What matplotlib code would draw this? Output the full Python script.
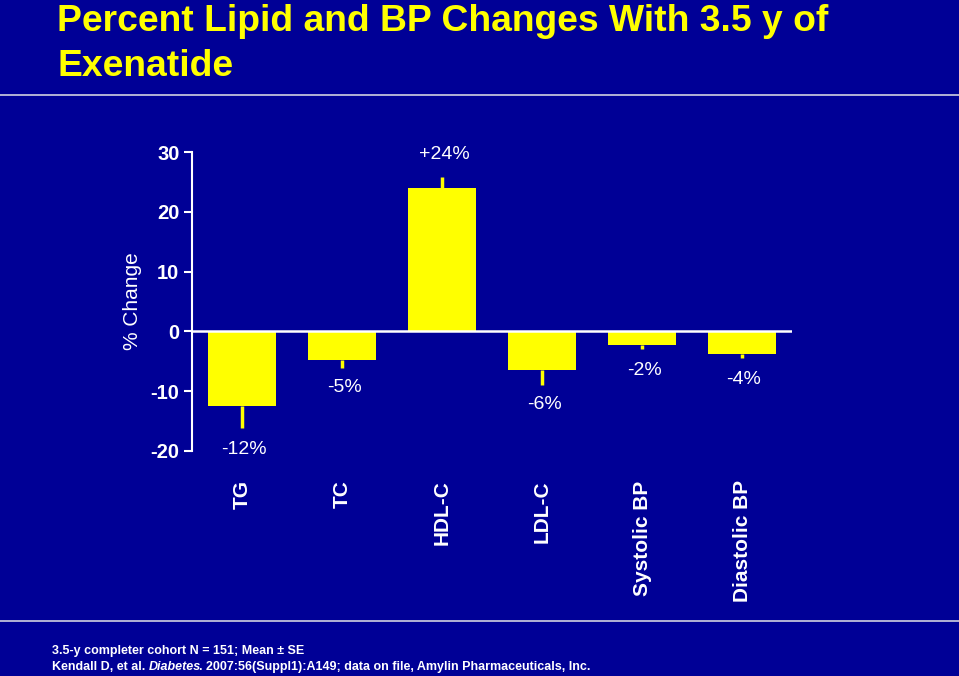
import matplotlib
matplotlib.use("Agg")
import matplotlib.pyplot as plt

categories = ["TG", "TC", "HDL-C", "LDL-C", "Systolic BP", "Diastolic BP"]
values = [-12.5, -4.7, 24.0, -6.5, -2.3, -3.8]
errors = [3.7, 1.5, 1.8, 2.5, 0.7, 0.7]
value_labels = ["-12%", "-5%", "+24%", "-6%", "-2%", "-4%"]
label_y = [-19.7, -9.3, 29.5, -12.3, -6.5, -8.1]
yticks = [-20, -10, 0, 10, 20, 30]

sans = ["Liberation Sans", "DejaVu Sans"]
plt.rcParams["font.family"] = sans

BG = "#000096"
YEL = "#FFFF00"
W, H = 959, 676
fig = plt.figure(figsize=(W / 100, H / 100), dpi=100, facecolor=BG)

# title
fig.text(57 / W, 1 - 31 / H, "Percent Lipid and BP Changes With 3.5 y of", color=YEL,
         fontsize=26.8, fontweight="bold", va="baseline", ha="left")
fig.text(57 / W, 1 - 76 / H, "Exenatide", color=YEL,
         fontsize=26.8, fontweight="bold", va="baseline", ha="left")
fig.add_artist(plt.Line2D([0, 1], [1 - 95 / H, 1 - 95 / H], color="#D0D0E0", lw=1.2))
fig.add_artist(plt.Line2D([0, 1], [1 - 621 / H, 1 - 621 / H], color="#D0D0E0", lw=1.2))

ax = fig.add_axes([192 / W, 1 - 451 / H, 600 / W, 299 / H])
ax.set_facecolor(BG)
x = list(range(len(categories)))
ax.bar(x, values, width=0.68, color=YEL, zorder=2)
for xi, v, e in zip(x, values, errors):
    end = v + e if v > 0 else v - e
    ax.plot([xi, xi], [v, end], color=YEL, lw=2.5, zorder=2, solid_capstyle="butt")
for xi, yv, t in zip(x, label_y, value_labels):
    ax.text(xi + 0.02, yv, t, color="white", fontsize=14, ha="center", va="center")
ax.axhline(0, color="white", lw=1.8, zorder=3)
ax.set_xlim(-0.5, 5.5)
ax.set_ylim(-20, 30)
ax.set_yticks(yticks)
ax.set_yticklabels([str(t) for t in yticks], color="white", fontsize=14.5, fontweight="bold")
ax.tick_params(axis="y", colors="white", direction="out", length=6, width=1.5, pad=3)
ax.set_xticks([])
for s in ["top", "right", "bottom"]:
    ax.spines[s].set_visible(False)
ax.spines["left"].set_color("white")
ax.spines["left"].set_linewidth(1.5)
ax.set_ylabel("% Change", color="white", fontsize=15, labelpad=6)

for xi, c in zip(x, categories):
    ax.text(xi, -24.9, c, color="white", fontsize=15, fontweight="bold", rotation=90,
            ha="center", va="top", clip_on=False)

fs = 9.0
fig.text(52 / W, 1 - 651 / H, "3.5-y completer cohort N = 151; Mean ± SE", color="white",
         fontsize=fs, fontweight="bold", va="center", ha="left")

renderer = fig.canvas.get_renderer()
parts = [("Kendall D, et al. ", "normal"), ("Diabetes", "italic"),
         (". 2007:56(Suppl1):A149; data on file, Amylin Pharmaceuticals, Inc.", "normal")]
xpix = 52.0
for txt, style in parts:
    t = fig.text(xpix / W, 1 - 667 / H, txt, color="white", fontsize=fs, fontweight="bold",
                 fontstyle=style, va="center", ha="left")
    bb = t.get_window_extent(renderer=renderer)
    xpix = bb.x1 - (2.0 if style == "italic" else 0.0)

fig.savefig("out.png", dpi=100, facecolor=BG)
